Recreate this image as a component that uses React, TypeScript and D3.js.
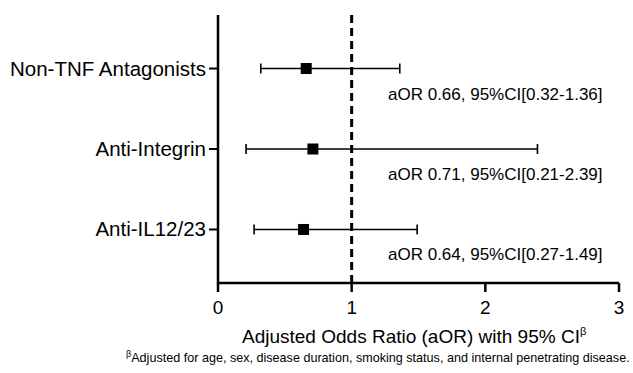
import { useEffect, useRef } from 'react';
import * as d3 from 'd3';

// datos
const categories = ['Non-TNF Antagonists', 'Anti-Integrin', 'Anti-IL12/23'];
const aor = [0.66, 0.71, 0.64];
const ciLow = [0.32, 0.21, 0.27];
const ciHigh = [1.36, 2.39, 1.49];
const xTicks = [0, 1, 2, 3];

const W = 633;
const H = 373;
const FONT = 'Liberation Sans, Arial, sans-serif';

const App = () => {
  const svgRef = useRef<SVGSVGElement>(null);

  useEffect(() => {
    if (!svgRef.current) return;
    const svg = d3.select(svgRef.current);
    svg.selectAll('*').remove();

    const x = d3.scaleLinear().domain([0, 3]).range([218, 619]);
    const y = d3.scalePoint<string>().domain(categories).range([15, 283]).padding(0.665);
    const y0 = 283;

    // eje x
    svg.append('line').attr('x1', x(0)).attr('x2', x(3)).attr('y1', y0).attr('y2', y0)
      .attr('stroke', '#000').attr('stroke-width', 2.5);
    xTicks.forEach(t => {
      svg.append('line').attr('x1', x(t)).attr('x2', x(t)).attr('y1', y0).attr('y2', y0 + 9)
        .attr('stroke', '#000').attr('stroke-width', 2.5);
      svg.append('text').attr('x', x(t)).attr('y', 313.5).attr('text-anchor', 'middle')
        .attr('font-family', FONT).attr('font-size', 19).text(t);
    });

    // eje y
    svg.append('line').attr('x1', x(0)).attr('x2', x(0)).attr('y1', 15).attr('y2', y0 + 1)
      .attr('stroke', '#000').attr('stroke-width', 2.5);
    categories.forEach(c => {
      svg.append('line').attr('x1', x(0) - 9).attr('x2', x(0)).attr('y1', y(c)!).attr('y2', y(c)!)
        .attr('stroke', '#000').attr('stroke-width', 2);
      svg.append('text').attr('x', x(0) - 12).attr('y', y(c)! + 7).attr('text-anchor', 'end')
        .attr('font-family', FONT).attr('font-size', 20.5).text(c);
    });

    // línea de referencia en 1
    svg.append('line').attr('x1', x(1)).attr('x2', x(1)).attr('y1', 15).attr('y2', y0)
      .attr('stroke', '#000').attr('stroke-width', 3).attr('stroke-dasharray', '8,5');

    // intervalos y puntos
    categories.forEach((c, i) => {
      const cy = y(c)!;
      const g = svg.append('g');
      g.append('line').attr('x1', x(ciLow[i])).attr('x2', x(ciHigh[i])).attr('y1', cy).attr('y2', cy)
        .attr('stroke', '#000').attr('stroke-width', 1.6);
      [ciLow[i], ciHigh[i]].forEach(v => {
        g.append('line').attr('x1', x(v)).attr('x2', x(v)).attr('y1', cy - 5).attr('y2', cy + 5)
          .attr('stroke', '#000').attr('stroke-width', 1.6);
      });
      g.append('rect').attr('x', x(aor[i]) - 5.5).attr('y', cy - 5.5).attr('width', 11).attr('height', 11)
        .attr('fill', '#000');
      g.append('text').attr('x', 388).attr('y', cy + 31).attr('font-family', FONT).attr('font-size', 17)
        .text(`aOR ${aor[i].toFixed(2)}, 95%CI[${ciLow[i].toFixed(2)}-${ciHigh[i].toFixed(2)}]`);
    });

    // título del eje
    const title = svg.append('text').attr('x', 242).attr('y', 343)
      .attr('font-family', FONT).attr('font-size', 19);
    title.append('tspan').text('Adjusted Odds Ratio (aOR) with 95% CI');
    title.append('tspan').attr('font-size', 11).attr('dy', -8).text('β');

    // nota al pie
    const foot = svg.append('text').attr('x', 126).attr('y', 361.5)
      .attr('font-family', FONT).attr('font-size', 12.6);
    foot.append('tspan').attr('font-size', 9).attr('dy', -5).text('β');
    foot.append('tspan').attr('dy', 5).text('Adjusted for age, sex, disease duration, smoking status, and internal penetrating disease.');
  }, []);

  return (
    <svg ref={svgRef} width={W} height={H}
      style={{ position: 'absolute', left: 0, top: 0, display: 'block', background: '#fff' }} />
  );
};

export default App;
